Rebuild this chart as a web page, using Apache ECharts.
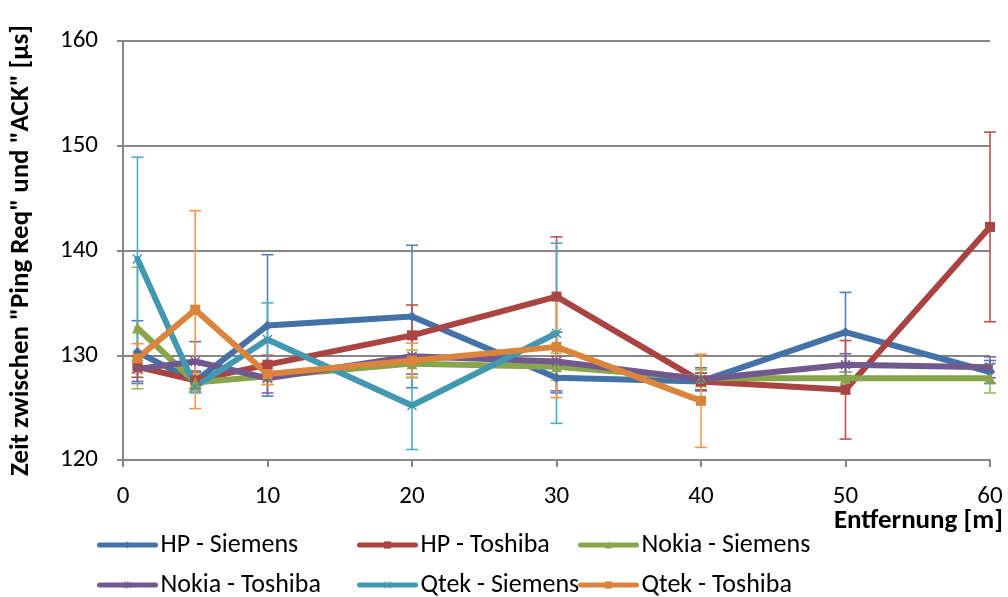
<!DOCTYPE html>
<html>
<head>
<meta charset="utf-8">
<script src="https://cdn.jsdelivr.net/npm/echarts@6/dist/echarts.min.js"></script>
<style>
  html, body { margin: 0; padding: 0; background: #fff; }
  #chart { width: 1008px; height: 597px; }
</style>
</head>
<body>
<div id="chart"></div>
<script>
// Distance in metres at which each measurement was taken
const distances = [1, 5, 10, 20, 30, 40, 50, 60];

// Mean time between "Ping Req" and "ACK" (µs) and its standard deviation
const hpSiemens       = [130.3, 127.5, 132.85, 133.7, 127.85, 127.5, 132.2, 128.4];
const hpSiemensErr    = [3.0, 1.0, 6.75, 6.8, 1.45, 0.8, 3.8, 1.1];
const hpToshiba       = [128.9, 127.6, 129.1, 131.9, 135.6, 127.5, 126.7, 142.25];
const hpToshibaErr    = [1.0, 0.8, 0.9, 2.9, 5.7, 0.8, 4.7, 9.05];
const nokiaSiemens    = [132.6, 127.4, 128.0, 129.2, 128.9, 127.8, 127.8, 127.8];
const nokiaSiemensErr = [5.8, 0.8, 0.8, 1.3, 1.3, 0.8, 0.6, 1.4];
const nokiaToshiba    = [128.7, 129.4, 127.8, 129.9, 129.4, 127.7, 129.1, 128.85];
const nokiaToshibaErr = [1.2, 1.9, 1.4, 1.7, 2.8, 1.1, 1.05, 1.0];
const qtekSiemens     = [139.2, 127.0, 131.5, 125.2, 132.1];
const qtekSiemensErr  = [9.7, 0.6, 3.5, 4.2, 8.6];
const qtekToshiba     = [129.7, 134.35, 128.2, 129.5, 130.8, 125.65];
const qtekToshibaErr  = [1.4, 9.45, 1.0, 1.65, 4.85, 4.45];

const seriesNames = ['HP - Siemens', 'HP - Toshiba', 'Nokia - Siemens',
                     'Nokia - Toshiba', 'Qtek - Siemens', 'Qtek - Toshiba'];
const xTicks = { min: 0, max: 60, interval: 10 };
const yTicks = { min: 120, max: 160, interval: 10 };

const FONT = 'Carlito, Lato, sans-serif';

const xShape = 'path://M0,1L1,0L5,4L9,0L10,1L6,5L10,9L9,10L5,6L1,10L0,9L4,5Z';
const starShape = 'path://M0,1L1,0L5,4L9,0L10,1L6,5L10,9L9,10L5,6L1,10L0,9L4,5Z' +
                  'M4.4,0L5.6,0L5.6,10L4.4,10Z';

const defs = [
  { vals: hpSiemens,    errs: hpSiemensErr,    line: '#4472A8', bar: '#4F81BD', symbol: 'diamond',  size: 10 },
  { vals: hpToshiba,    errs: hpToshibaErr,    line: '#A94442', bar: '#C0504D', symbol: 'rect',     size: 10 },
  { vals: nokiaSiemens, errs: nokiaSiemensErr, line: '#88A54E', bar: '#9BBB59', symbol: 'triangle', size: 11 },
  { vals: nokiaToshiba, errs: nokiaToshibaErr, line: '#71588F', bar: '#8064A2', symbol: starShape,  size: 10 },
  { vals: qtekSiemens,  errs: qtekSiemensErr,  line: '#4198AF', bar: '#4BACC6', symbol: xShape,     size: 10 },
  { vals: qtekToshiba,  errs: qtekToshibaErr,  line: '#DB843D', bar: '#F79646', symbol: 'rect',     size: 10 }
];

const series = [];
// error bars first so the lines sit on top of them
defs.forEach((d, i) => {
  series.push({
    name: seriesNames[i] + ' (σ)',
    type: 'custom',
    z: 2,
    silent: true,
    data: d.vals.map((v, k) => [distances[k], v - d.errs[k], v + d.errs[k]]),
    renderItem: function (params, api) {
      const lo = api.coord([api.value(0), api.value(1)]);
      const hi = api.coord([api.value(0), api.value(2)]);
      const hw = 6;
      const style = { stroke: d.bar, lineWidth: 1.6 };
      return {
        type: 'group',
        children: [
          { type: 'line', shape: { x1: lo[0], y1: lo[1], x2: hi[0], y2: hi[1] }, style: style },
          { type: 'line', shape: { x1: lo[0] - hw, y1: lo[1], x2: lo[0] + hw, y2: lo[1] }, style: style },
          { type: 'line', shape: { x1: hi[0] - hw, y1: hi[1], x2: hi[0] + hw, y2: hi[1] }, style: style }
        ]
      };
    }
  });
});
defs.forEach((d, i) => {
  series.push({
    name: seriesNames[i],
    type: 'line',
    z: 3,
    data: d.vals.map((v, k) => [distances[k], v]),
    symbol: d.symbol,
    symbolSize: d.size,
    showAllSymbol: true,
    color: d.line,
    lineStyle: { color: d.line, width: 6, cap: 'round', join: 'round' },
    itemStyle: { color: d.line }
  });
});

// one legend per entry, laid out as a 3 x 2 table
const legendCols = [97, 357, 578];
const legendRows = [530, 570];
const legends = seriesNames.map((name, i) => ({
  left: legendCols[i % 3],
  top: legendRows[Math.floor(i / 3)],
  padding: 0,
  itemWidth: 56,
  itemHeight: 9,
  lineStyle: { width: 5, cap: 'round' },
  data: [name],
  textStyle: { fontFamily: FONT, fontSize: 26, lineHeight: 30, color: '#000' }
}));

const chart = echarts.init(document.getElementById('chart'), null, { renderer: 'canvas' });
chart.setOption({
  animation: false,
  backgroundColor: '#fff',
  grid: { left: 122, right: 18, top: 41, bottom: 137 },
  xAxis: {
    type: 'value',
    min: xTicks.min, max: xTicks.max, interval: xTicks.interval,
    axisLine: { show: true, lineStyle: { color: '#868686', width: 2 } },
    axisTick: { show: true, length: 7, lineStyle: { color: '#868686', width: 2 } },
    axisLabel: { fontFamily: FONT, fontSize: 25, color: '#000', margin: 24 },
    splitLine: { show: false }
  },
  yAxis: {
    type: 'value',
    min: yTicks.min, max: yTicks.max, interval: yTicks.interval,
    name: 'Zeit zwischen "Ping Req" und "ACK" [µs]',
    nameLocation: 'middle',
    nameGap: 88,
    nameTextStyle: { fontFamily: FONT, fontSize: 27, fontWeight: 'bold', color: '#000' },
    axisLine: { show: true, lineStyle: { color: '#868686', width: 2 } },
    axisTick: { show: true, length: 6, lineStyle: { color: '#868686', width: 2 } },
    axisLabel: { fontFamily: FONT, fontSize: 25, color: '#000', margin: 25 },
    splitLine: { show: true, lineStyle: { color: '#868686', width: 2 } }
  },
  legend: legends,
  graphic: [{
    type: 'text',
    right: 5,
    top: 508,
    style: {
      text: 'Entfernung [m]',
      font: 'bold 27px ' + FONT,
      fill: '#000'
    }
  }],
  series: series
});
</script>
</body>
</html>
